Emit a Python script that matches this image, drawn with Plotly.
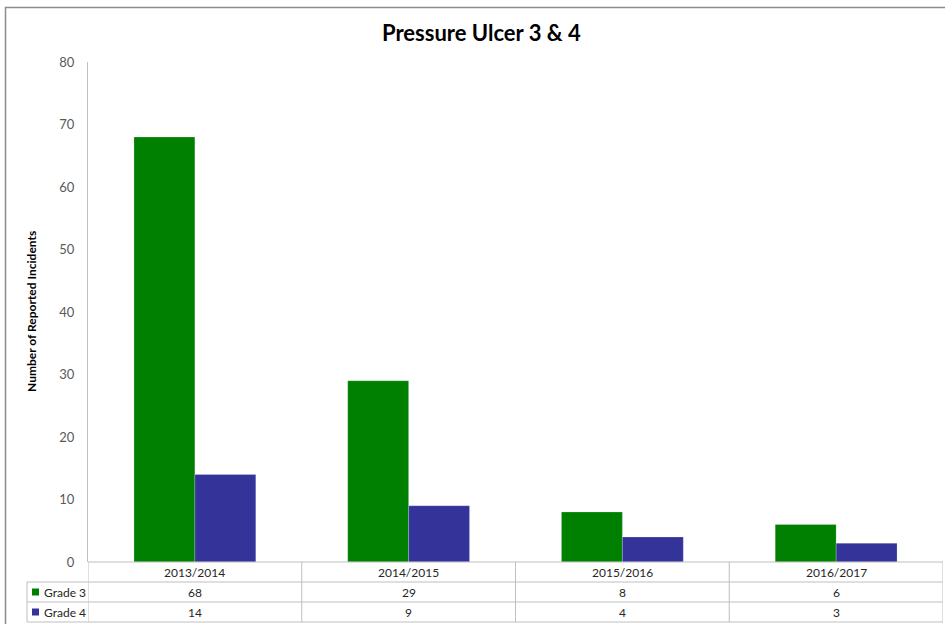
import plotly.graph_objects as go

# Reported pressure ulcer incidents per financial year
years = ["2013/2014", "2014/2015", "2015/2016", "2016/2017"]
grade3 = [68, 29, 8, 6]
grade4 = [14, 9, 4, 3]
series_names = ["Grade 3", "Grade 4"]
series_colors = ["#008000", "#333399"]
y_ticks = [0, 10, 20, 30, 40, 50, 60, 70, 80]

W, H = 945, 624
L, R, T, B = 88, 2, 62, 62  # plot area 88..943 x 62..562
plot_w = W - L - R
plot_h = H - T - B

FONT = "Lato"
GRID = "#bfbfbf"
TEXT = "#262626"


def px_to_paper_x(px):
    return (px - L) / plot_w


def px_to_paper_y(py):
    return (H - B - py) / plot_h


fig = go.Figure()
for name, vals, col in zip(series_names, [grade3, grade4], series_colors):
    fig.add_trace(go.Bar(
        x=years, y=vals, name=name,
        marker=dict(color=col, line=dict(color="rgba(255,255,255,0.35)", width=0.6)),
        hoverinfo="x+y+name",
    ))

shapes = []
annotations = []

# outer chart border
shapes.append(dict(type="rect", xref="paper", yref="paper",
                   x0=px_to_paper_x(5.5), x1=px_to_paper_x(960),
                   y0=px_to_paper_y(640), y1=px_to_paper_y(7.5),
                   line=dict(color="#8c8c8c", width=1.5), fillcolor="rgba(0,0,0,0)",
                   layer="below"))

# data table below the plot: row lines
row_y = [562, 582, 602, 622]
for i, py in enumerate(row_y):
    x0 = L if i == 0 else 27
    shapes.append(dict(type="line", xref="paper", yref="paper",
                       x0=px_to_paper_x(x0), x1=1.0,
                       y0=px_to_paper_y(py), y1=px_to_paper_y(py),
                       line=dict(color=GRID, width=1)))
# column lines at category boundaries
for k in range(len(years) + 1):
    shapes.append(dict(type="line", xref="x", yref="paper",
                       x0=k - 0.5, x1=k - 0.5,
                       y0=px_to_paper_y(562), y1=px_to_paper_y(622),
                       line=dict(color=GRID, width=1)))
# left edge of the series-name column
shapes.append(dict(type="line", xref="paper", yref="paper",
                   x0=px_to_paper_x(27), x1=px_to_paper_x(27),
                   y0=px_to_paper_y(582), y1=px_to_paper_y(622),
                   line=dict(color=GRID, width=1)))


def label(x, py, text, xref="paper", xanchor="center", size=12, color=TEXT, angle=0):
    annotations.append(dict(x=x, y=px_to_paper_y(py), xref=xref, yref="paper",
                            text=text, showarrow=False, xanchor=xanchor, yanchor="middle",
                            textangle=angle,
                            font=dict(family=FONT, size=size, color=color)))


# category header row
for k, yr in enumerate(years):
    label(k, 572, yr, xref="x")

# value rows with legend keys
for r, (name, vals, col) in enumerate(zip(series_names, [grade3, grade4], series_colors)):
    cy = 592 + 20 * r
    shapes.append(dict(type="rect", xref="paper", yref="paper",
                       x0=px_to_paper_x(32), x1=px_to_paper_x(39),
                       y0=px_to_paper_y(cy + 3.5), y1=px_to_paper_y(cy - 3.5),
                       line=dict(width=0), fillcolor=col))
    label(px_to_paper_x(41.5), cy, name, xanchor="left")
    for k, v in enumerate(vals):
        label(k, cy, str(v), xref="x")

# y-axis title
label(px_to_paper_x(31), 312, "<b>Number of Reported Incidents</b>",
      size=12, color="#000000", angle=-90)

# chart title
label(px_to_paper_x(481), 33, "<b>Pressure Ulcer 3 &amp; 4</b>", size=22, color="#000000")

fig.update_layout(
    width=W, height=H,
    margin=dict(l=L, r=R, t=T, b=B),
    paper_bgcolor="white", plot_bgcolor="white",
    barmode="group", bargap=0.43, bargroupgap=0,
    showlegend=False,
    font=dict(family=FONT),
    xaxis=dict(showticklabels=False, showgrid=False, zeroline=False, showline=False,
               range=[-0.5, len(years) - 0.5], fixedrange=True),
    yaxis=dict(range=[0, 80], tickvals=y_ticks, showgrid=False, zeroline=False,
               showline=True, linecolor=GRID, linewidth=1,
               ticks="", ticklabelstandoff=10,
               tickfont=dict(family=FONT, size=13, color="#595959")),
    shapes=shapes, annotations=annotations,
)

fig.write_html("out.html")
